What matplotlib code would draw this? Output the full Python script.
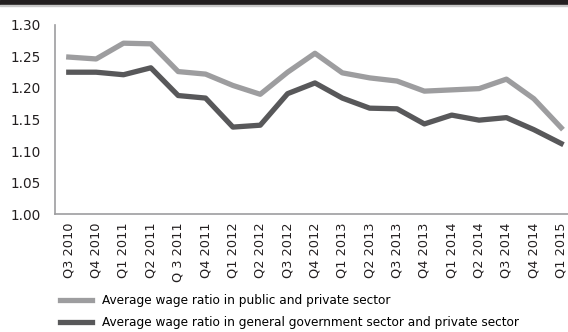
import matplotlib.pyplot as plt
from matplotlib.patches import Rectangle

plt.rcParams['font.family'] = ['Liberation Sans Narrow', 'DejaVu Sans']

quarters = ['Q3 2010', 'Q4 2010', 'Q1 2011', 'Q2 2011', 'Q 3 2011', 'Q4 2011',
            'Q1 2012', 'Q2 2012', 'Q3 2012', 'Q4 2012', 'Q1 2013', 'Q2 2013',
            'Q3 2013', 'Q4 2013', 'Q1 2014', 'Q2 2014', 'Q3 2014', 'Q4 2014',
            'Q1 2015']
public_private = [1.249, 1.246, 1.271, 1.270, 1.226, 1.222, 1.204, 1.190, 1.225,
                  1.255, 1.224, 1.216, 1.211, 1.195, 1.197, 1.199, 1.214, 1.183,
                  1.137]
govt_private = [1.225, 1.225, 1.221, 1.232, 1.188, 1.184, 1.138, 1.141, 1.191,
                1.208, 1.184, 1.168, 1.167, 1.143, 1.157, 1.149, 1.153, 1.134,
                1.112]

fig = plt.figure(figsize=(5.68, 3.32), dpi=100)
fig.patches.append(Rectangle((0, 0.988), 1, 0.012, transform=fig.transFigure,
                             color='#231f20', zorder=0))
fig.patches.append(Rectangle((0, 0.982), 1, 0.004, transform=fig.transFigure,
                             color='#c8c8c8', zorder=0))

ax = fig.add_axes([0.097, 0.355, 0.915, 0.570])
x = range(len(quarters))
l1, = ax.plot(x, public_private, color='#9d9d9f', lw=3.8,
              label='Average wage ratio in public and private sector')
l2, = ax.plot(x, govt_private, color='#58585a', lw=3.8,
              label='Average wage ratio in general government sector and private sector')

ax.set_xlim(-0.5, 18.5)
ax.set_ylim(1.0, 1.30)
ax.set_yticks([1.00, 1.05, 1.10, 1.15, 1.20, 1.25, 1.30])
ax.set_yticklabels(['%.2f' % v for v in [1.00, 1.05, 1.10, 1.15, 1.20, 1.25, 1.30]])
ax.set_xticks(list(x))
ax.set_xticklabels(quarters, rotation=90)
ax.tick_params(length=0, labelsize=9.8, colors='#231f20')
ax.tick_params(axis='x', labelsize=9.3, pad=6)
ax.tick_params(axis='y', pad=10)
for s in ['top', 'right']:
    ax.spines[s].set_visible(False)
for s in ['left', 'bottom']:
    ax.spines[s].set_color('#9d9d9f')
    ax.spines[s].set_linewidth(1.2)

fig.legend(handles=[l1, l2], loc='upper left', bbox_to_anchor=(0.105, 0.115),
           frameon=False, fontsize=8.7, handlelength=2.7, handletextpad=0.8,
           labelspacing=0.75, borderpad=0, borderaxespad=0)

fig.savefig('out.png', dpi=100)
